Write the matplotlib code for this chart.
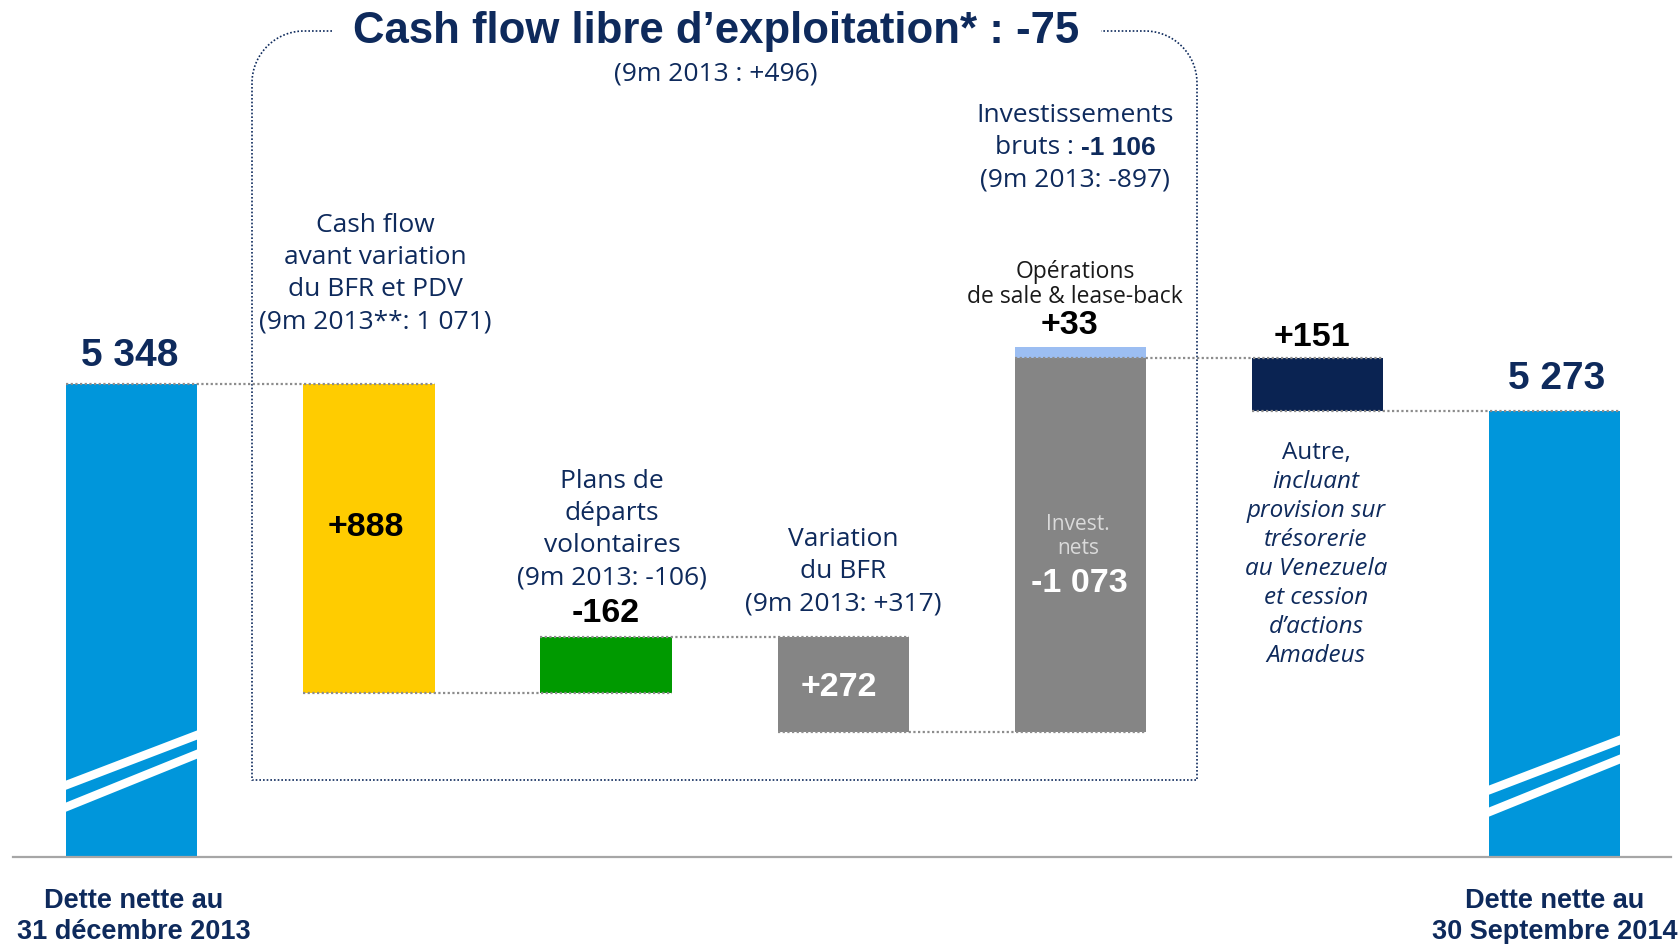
import matplotlib
matplotlib.use("Agg")
import matplotlib.pyplot as plt
import numpy as np
from matplotlib.patches import Polygon

# ---------------- data ----------------
categories = ["Dette nette au\n31 décembre 2013",
              "Cash flow avant variation du BFR et PDV",
              "Plans de départs volontaires",
              "Variation du BFR",
              "Investissements nets",
              "Autre",
              "Dette nette au\n30 Septembre 2014"]
start_debt = 5348
end_debt = 5273
changes = [888, -162, 272, -1073, 151]          # positive = debt reduction
change_labels = ["+888", "-162", "+272", "-1 073", "+151"]
gross_invest = -1106
sale_leaseback = 33
fcf_total = -75
fcf_prev = "+496"

# ---------------- style ----------------
BLUE = "#0096DB"
YELLOW = "#FFCC00"
GREEN = "#009A00"
GRAY = "#858585"
LIGHTBLUE = "#9CBEF2"
NAVYBAR = "#0A2352"
NAVY = "#0E2A5C"
CAP = ["Open Sans", "DejaVu Sans"]
NUM = ["Liberation Sans", "DejaVu Sans"]
BOLDLBL = ["Liberation Sans", "DejaVu Sans"]

W, H = 1680, 944
fig = plt.figure(figsize=(W / 100, H / 100), dpi=100)
ax = fig.add_axes([0, 0, 1, 1])
ax.axis("off")

# pixel <-> data mapping
X0, DX = 131.8, 237.14            # px of first bar centre, px per category
BASE, UPP, BASE_PX = 3990.0, 2.874, 857.0   # value at baseline, units per px
TOP = BASE + BASE_PX * UPP
ax.set_xlim(-X0 / DX, (W - X0) / DX)
ax.set_ylim(TOP - H * UPP, TOP)
YOFF = 3  # small vertical text offset in px


def px2x(p):
    return (p - X0) / DX


def px2y(p):
    return TOP - p * UPP


BW = 131.2 / DX

# ---------------- waterfall ----------------
levels = [start_debt]
for c in changes:
    levels.append(levels[-1] - c)
xs = np.arange(len(categories))
colors = [YELLOW, GREEN, GRAY, GRAY, NAVYBAR]

ax.bar(xs[0], start_debt - BASE, bottom=BASE, width=BW, color=BLUE, zorder=2)
ax.bar(xs[-1], end_debt - BASE, bottom=BASE, width=BW, color=BLUE, zorder=2)
for i, c in enumerate(changes):
    lo = min(levels[i], levels[i + 1])
    ax.bar(xs[i + 1], abs(c), bottom=lo, width=BW, color=colors[i], zorder=2)
# sale & lease-back portion on top of net investments
gross_top = levels[3] - gross_invest
ax.bar(xs[4], sale_leaseback, bottom=gross_top - sale_leaseback, width=BW,
       color=LIGHTBLUE, zorder=2)

# dotted connectors
conn_levels = levels[:5] + [end_debt]
for i, lv in enumerate(conn_levels):
    ax.plot([xs[i] - BW / 2, xs[i + 1] + BW / 2], [lv, lv], color="#8C8C8C",
            lw=1.6, ls=(0, (1, 1.1)), zorder=3)

# baseline
ax.plot([px2x(13), px2x(1671)], [BASE, BASE], color="#A6A6A6", lw=1.6, zorder=4)

# break marks on the first and last bars
for xc, shift in [(xs[0], 0), (xs[-1], -5)]:
    for yl, yr in [(71 + shift, 123 + shift), (49 + shift, 104 + shift)]:
        t = 4.6
        xl, xr = xc - BW / 2 - 0.01, xc + BW / 2 + 0.01
        pts = [(xl, BASE + (yl - t) * UPP), (xr, BASE + (yr - t) * UPP),
               (xr, BASE + (yr + t) * UPP), (xl, BASE + (yl + t) * UPP)]
        ax.add_patch(Polygon(pts, closed=True, color="white", lw=0, zorder=3))

# ---------------- dotted rounded box ----------------
L, R, T, B, r = 252, 1197, 31, 780, 52
th = np.linspace(0, np.pi / 2, 30)
path = [(332, T)]
path += [(L + r - r * np.sin(a), T + r - r * np.cos(a)) for a in th]
path += [(L, B), (R, B)]
path += [(R - r + r * np.cos(a), T + r - r * np.sin(a)) for a in th]
path += [(1101, T)]
path = np.array(path)
ax.plot(px2x(path[:, 0]), px2y(path[:, 1]), color=NAVY, lw=1.2,
        ls=(0, (1, 1.2)), zorder=1)


# ---------------- text ----------------
def txt(xp, yp, s, size, color=NAVY, family=CAP, weight="normal", style="normal", **kw):
    return ax.text(px2x(xp), px2y(yp + YOFF), s, fontsize=size, color=color, family=family,
                   fontweight=weight, fontstyle=style, ha=kw.pop("ha", "center"),
                   va="center", zorder=6, **kw)


def block(xp, y0, step, lines, size, **kw):
    for k, s in enumerate(lines):
        if isinstance(s, tuple):
            txt(xp, y0 + k * step, s[0], size, style=s[1], **kw)
        else:
            txt(xp, y0 + k * step, s, size, **kw)


txt(716, 28, f"Cash flow libre d\u2019exploitation* : {fcf_total}", 31.5, family=NUM, weight="bold")
txt(716, 71, f"(9m 2013 : {fcf_prev})", 19)

block(375, 223, 32, ["Cash flow", "avant variation", "du BFR et PDV", "(9m 2013**: 1 071)"], 19)
block(612, 479, 32, ["Plans de", "départs", "volontaires", "(9m 2013: -106)"], 19)
block(843, 537, 32, ["Variation", "du BFR", "(9m 2013: +317)"], 19)
txt(1075, 112, "Investissements", 19)
t1 = txt(1075, 145, "bruts : ", 19, ha="right")
t2 = txt(1075, 145, f"{gross_invest:,}".replace(",", " "), 19, family=BOLDLBL, weight="bold", ha="left")
txt(1075, 177, "(9m 2013: -897)", 19)
block(1075, 269, 25, ["Opérations", "de sale & lease-back"], 16.5, color="#1A1A1A")
block(1078, 521, 24, ["Invest.", "nets"], 15, color="#DADADA")
block(1316, 450, 29, ["Autre,", ("incluant", "italic"), ("provision sur", "italic"),
                      ("trésorerie", "italic"), ("au Venezuela", "italic"),
                      ("et cession", "italic"), ("d\u2019actions", "italic"),
                      ("Amadeus", "italic")], 17.5)

# values
txt(130, 353, f"{start_debt:,}".replace(",", " "), 28, family=NUM, weight="bold")
txt(1557, 376, f"{end_debt:,}".replace(",", " "), 28, family=NUM, weight="bold")
lbl_pos = [(366, 525, "black"), (606, 611, "black"), (839, 685, "white"),
           (1079, 580, "white"), (1312, 335, "black")]
for (xp, yp, col), s in zip(lbl_pos, change_labels):
    txt(xp, yp, s, 24.5, color=col, family=NUM, weight="bold")
txt(1069, 323, f"+{sale_leaseback}", 24.5, color="black", family=NUM, weight="bold")

# category labels below axis
for xp, lab in [(134, categories[0]), (1555, categories[-1])]:
    l1, l2 = lab.split("\n")
    txt(xp, 898, l1, 19.5, family=BOLDLBL, weight="bold")
    txt(xp, 929, l2, 19.5, family=BOLDLBL, weight="bold")

# centre the mixed-weight line
fig.canvas.draw()
rend = fig.canvas.get_renderer()
w1 = t1.get_window_extent(rend).width
w2 = t2.get_window_extent(rend).width
split = 1075 - (w1 + w2) / 2 + w1
t1.set_x(px2x(split))
t2.set_x(px2x(split))

fig.savefig("out.png", dpi=100)
